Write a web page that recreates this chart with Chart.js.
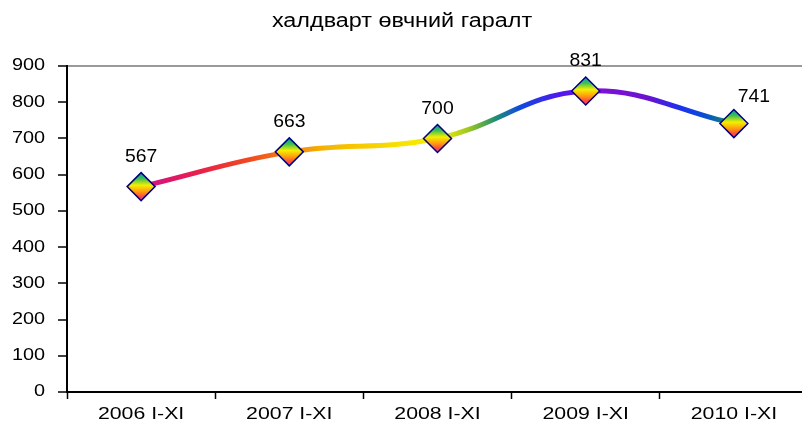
<!DOCTYPE html>
<html>
<head>
<meta charset="utf-8">
<script src="https://cdn.jsdelivr.net/npm/chart.js@4/dist/chart.umd.min.js"></script>
<style>
  html, body { margin: 0; padding: 0; background: #fff; overflow: hidden; }
  #wrap { width: 802px; height: 427px; overflow: hidden; position: relative; }
  #disease-chart { display: block; }
</style>
</head>
<body>
<div id="wrap"><canvas id="disease-chart" width="808" height="427"></canvas></div>
<script>
// chart data
var chartTitle = 'халдварт өвчний гаралт';
var years = ['2006 I-XI', '2007 I-XI', '2008 I-XI', '2009 I-XI', '2010 I-XI'];
var cases = [567, 663, 700, 831, 741];
var yMin = 0, yMax = 900, yStep = 100;

var FONT = '"Liberation Sans", Arial, sans-serif';

// draw text stretched horizontally like the original picture
function wideText(ctx, text, x, y, size, stretch, align) {
    ctx.save();
    ctx.font = size + 'px ' + FONT;
    ctx.fillStyle = '#000';
    ctx.textAlign = align;
    ctx.textBaseline = 'middle';
    ctx.translate(x, y);
    ctx.scale(stretch, 1);
    ctx.fillText(text, 0, 0);
    ctx.restore();
}

// rainbow along the line, stops in canvas x
var lineStops = [
    [140, '#d0108a'], [200, '#e8204a'], [250, '#f04a20'], [291, '#f28414'],
    [325, '#f6b400'], [400, '#f6e200'], [440, '#f8f000'], [468, '#a0c820'],
    [495, '#209070'], [520, '#1048e0'], [560, '#5018f0'], [600, '#8010d8'],
    [648, '#6a12d0'], [680, '#1c30f0'], [705, '#0850d0'], [726, '#10807a']
];

function lineGradient(c) {
    var chart = c.chart;
    if (!chart.chartArea || !chart.width) return '#f08010';
    var g = chart.ctx.createLinearGradient(0, 0, chart.width, 0);
    lineStops.forEach(function (s) { g.addColorStop(Math.min(1, s[0] / chart.width), s[1]); });
    return g;
}

function markerGradient(c) {
    var chart = c.chart;
    var sy = chart.scales.y;
    if (!sy || c.raw === undefined) return '#ffff00';
    var y = sy.getPixelForValue(c.raw);
    if (!isFinite(y)) return '#ffff00';
    var g = chart.ctx.createLinearGradient(0, y - 14, 0, y + 14);
    g.addColorStop(0, '#009aa8');
    g.addColorStop(0.22, '#40c050');
    g.addColorStop(0.45, '#f4f000');
    g.addColorStop(0.68, '#ff9a10');
    g.addColorStop(0.86, '#ff4840');
    g.addColorStop(1, '#ff3c90');
    return g;
}

var textPlugin = {
    id: 'textPlugin',
    afterDraw: function (chart) {
        var ctx = chart.ctx;
        var sx = chart.scales.x, sy = chart.scales.y;
        wideText(ctx, chartTitle, 402, 21, 20, 1.17, 'center');
        sy.ticks.forEach(function (t) {
            wideText(ctx, String(t.value), 45, sy.getPixelForValue(t.value), 16, 1.24, 'right');
        });
        years.forEach(function (lab, i) {
            wideText(ctx, lab, sx.getPixelForValue(i), 415, 16, 1.33, 'center');
        });
        var meta = chart.getDatasetMeta(0);
        meta.data.forEach(function (pt, i) {
            var dx = i === cases.length - 1 ? 20 : 0;
            var dy = i === cases.length - 1 ? -27 : -30;
            wideText(ctx, String(cases[i]), pt.x + dx, pt.y + dy, 19, 1.02, 'center');
        });
    }
};

var ctx = document.getElementById('disease-chart').getContext('2d');
var chart = new Chart(ctx, {
    type: 'line',
    data: {
        labels: years,
        datasets: [{
            label: chartTitle,
            data: cases,
            borderColor: lineGradient,
            borderWidth: 5,
            tension: 0.4,
            pointStyle: 'rectRot',
            pointRadius: 14,
            pointBackgroundColor: markerGradient,
            pointBorderColor: '#000080',
            pointBorderWidth: 1.5,
            clip: false
        }]
    },
    options: {
        responsive: false,
        animation: false,
        events: [],
        layout: { autoPadding: false, padding: { top: 66, right: 0, bottom: 0, left: 0 } },
        plugins: {
            legend: { display: false },
            title: { display: false },
            tooltip: { enabled: false }
        },
        scales: {
            x: {
                offset: true,
                grid: { offset: true, drawOnChartArea: false, tickLength: 7, tickColor: '#000', tickWidth: 1.5 },
                border: { color: '#000', width: 2 },
                ticks: { color: 'transparent', font: { size: 15, family: FONT } },
                afterFit: function (s) { s.height = 35; }
            },
            y: {
                min: yMin,
                max: yMax,
                grid: {
                    color: function (c) { return c.tick && c.tick.value === yMax ? '#9a9a9a' : 'transparent'; },
                    lineWidth: 2,
                    tickLength: 9,
                    tickColor: '#000',
                    tickWidth: 1.5
                },
                border: { color: '#000', width: 2 },
                ticks: { stepSize: yStep, color: 'transparent', font: { size: 15, family: FONT } },
                afterFit: function (s) { s.width = 67; }
            }
        }
    },
    plugins: [textPlugin]
});
</script>
</body>
</html>
